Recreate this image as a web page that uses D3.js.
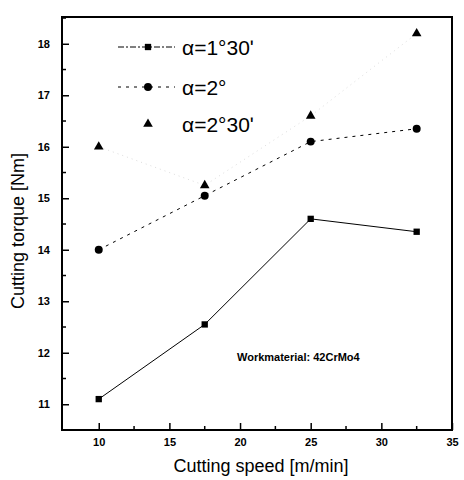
<!DOCTYPE html>
<html>
<head>
<meta charset="utf-8">
<script src="https://cdn.jsdelivr.net/npm/d3@7"></script>
<style>
  body { margin: 0; background: #fff; }
  text { font-family: Arial, "Liberation Sans", sans-serif; }
</style>
</head>
<body>
<svg id="chart" width="464" height="480"></svg>
<script>
// cutting speed [m/min]
var speeds = [10, 17.5, 25, 32.5];
// cutting torque [Nm] per rake angle
var torque130 = [11.1, 12.55, 14.6, 14.35];
var torque2 = [14.0, 15.05, 16.1, 16.35];
var torque230 = [16.0, 15.25, 16.6, 18.2];
var seriesNames = ["\u03b1=1\u00b030\u02b9", "\u03b1=2\u00b0", "\u03b1=2\u00b030\u02b9"];
var xTicks = [10, 15, 20, 25, 30, 35];
var yTicks = [11, 12, 13, 14, 15, 16, 17, 18];

var svg = d3.select("#chart");
var plotLeft = 62, plotRight = 452, plotTop = 17, plotBottom = 430;

var x = d3.scaleLinear().domain([7.4, 35]).range([plotLeft, plotRight]);
var y = d3.scaleLinear().domain([10.5, 18.52]).range([plotBottom, plotTop]);

// frame
svg.append("rect")
    .attr("x", plotLeft).attr("y", plotTop)
    .attr("width", plotRight - plotLeft).attr("height", plotBottom - plotTop)
    .attr("fill", "none").attr("stroke", "#000").attr("stroke-width", 2);

// axes with inward ticks
var xAxis = d3.axisBottom(x).tickValues(xTicks).tickSizeInner(-7).tickSizeOuter(0).tickPadding(8);
var gx = svg.append("g").attr("transform", "translate(0," + plotBottom + ")").call(xAxis);
gx.select(".domain").remove();
gx.selectAll(".tick line").attr("stroke-width", 1.5);
gx.selectAll("text").attr("font-size", 11).attr("font-weight", "bold");

var xMinor = d3.range(12.5, 35, 5);
svg.append("g").selectAll("line").data(xMinor).join("line")
    .attr("x1", d => x(d)).attr("x2", d => x(d))
    .attr("y1", plotBottom).attr("y2", plotBottom - 4)
    .attr("stroke", "#000").attr("stroke-width", 1.5);

var yAxis = d3.axisLeft(y).tickValues(yTicks).tickSizeInner(-7).tickSizeOuter(0).tickPadding(12);
var gy = svg.append("g").attr("transform", "translate(" + plotLeft + ",0)").call(yAxis);
gy.select(".domain").remove();
gy.selectAll(".tick line").attr("stroke-width", 1.5);
gy.selectAll("text").attr("font-size", 11).attr("font-weight", "bold");

var yMinor = d3.range(10.5, 18.6, 1);
svg.append("g").selectAll("line").data(yMinor).join("line")
    .attr("x1", plotLeft).attr("x2", plotLeft + 4)
    .attr("y1", d => y(d)).attr("y2", d => y(d))
    .attr("stroke", "#000").attr("stroke-width", 1.5);

// axis titles
svg.append("text")
    .attr("x", 261).attr("y", 472)
    .attr("text-anchor", "middle").attr("font-size", 18)
    .text("Cutting speed [m/min]");
svg.append("text")
    .attr("transform", "translate(24,231) rotate(-90)")
    .attr("text-anchor", "middle").attr("font-size", 18)
    .text("Cutting torque [Nm]");

var line = d3.line().x((d, i) => x(speeds[i])).y(d => y(d));

// series lines
svg.append("path").datum(torque230).attr("d", line)
    .attr("fill", "none").attr("stroke", "#ddd").attr("stroke-width", 1)
    .attr("stroke-dasharray", "1,4");
svg.append("path").datum(torque2).attr("d", line)
    .attr("fill", "none").attr("stroke", "#000").attr("stroke-width", 1)
    .attr("stroke-dasharray", "3,5");
svg.append("path").datum(torque130).attr("d", line)
    .attr("fill", "none").attr("stroke", "#000").attr("stroke-width", 1);

// markers
var sym = {
  square: d3.symbol().type(d3.symbolSquare).size(40),
  circle: d3.symbol().type(d3.symbolCircle).size(50),
  triangle: d3.symbol().type(d3.symbolTriangle).size(40)
};
function markers(data, shape) {
  svg.append("g").selectAll("path").data(data).join("path")
      .attr("transform", (d, i) => "translate(" + x(speeds[i]) + "," + y(d) + ")")
      .attr("d", sym[shape]).attr("fill", "#000");
}
markers(torque130, "square");
markers(torque2, "circle");
markers(torque230, "triangle");

// legend
var legY = [47, 87, 124];
var legShapes = ["square", "circle", "triangle"];
var legDash = ["6,2,2,2", "3,5", null];
legShapes.forEach(function (s, i) {
  if (legDash[i] !== null) {
    svg.append("line")
        .attr("x1", 118).attr("x2", 175)
        .attr("y1", legY[i]).attr("y2", legY[i])
        .attr("stroke", "#000").attr("stroke-width", 1)
        .attr("stroke-dasharray", legDash[i]);
  }
  svg.append("path")
      .attr("transform", "translate(148," + legY[i] + ")")
      .attr("d", sym[s]).attr("fill", "#000");
  svg.append("text")
      .attr("x", 182).attr("y", legY[i] + 8)
      .attr("font-size", 21)
      .text(seriesNames[i]);
});

// annotation
svg.append("text")
    .attr("x", 237).attr("y", 361)
    .attr("font-size", 11).attr("font-weight", "bold")
    .text("Workmaterial: 42CrMo4");
</script>
</body>
</html>
